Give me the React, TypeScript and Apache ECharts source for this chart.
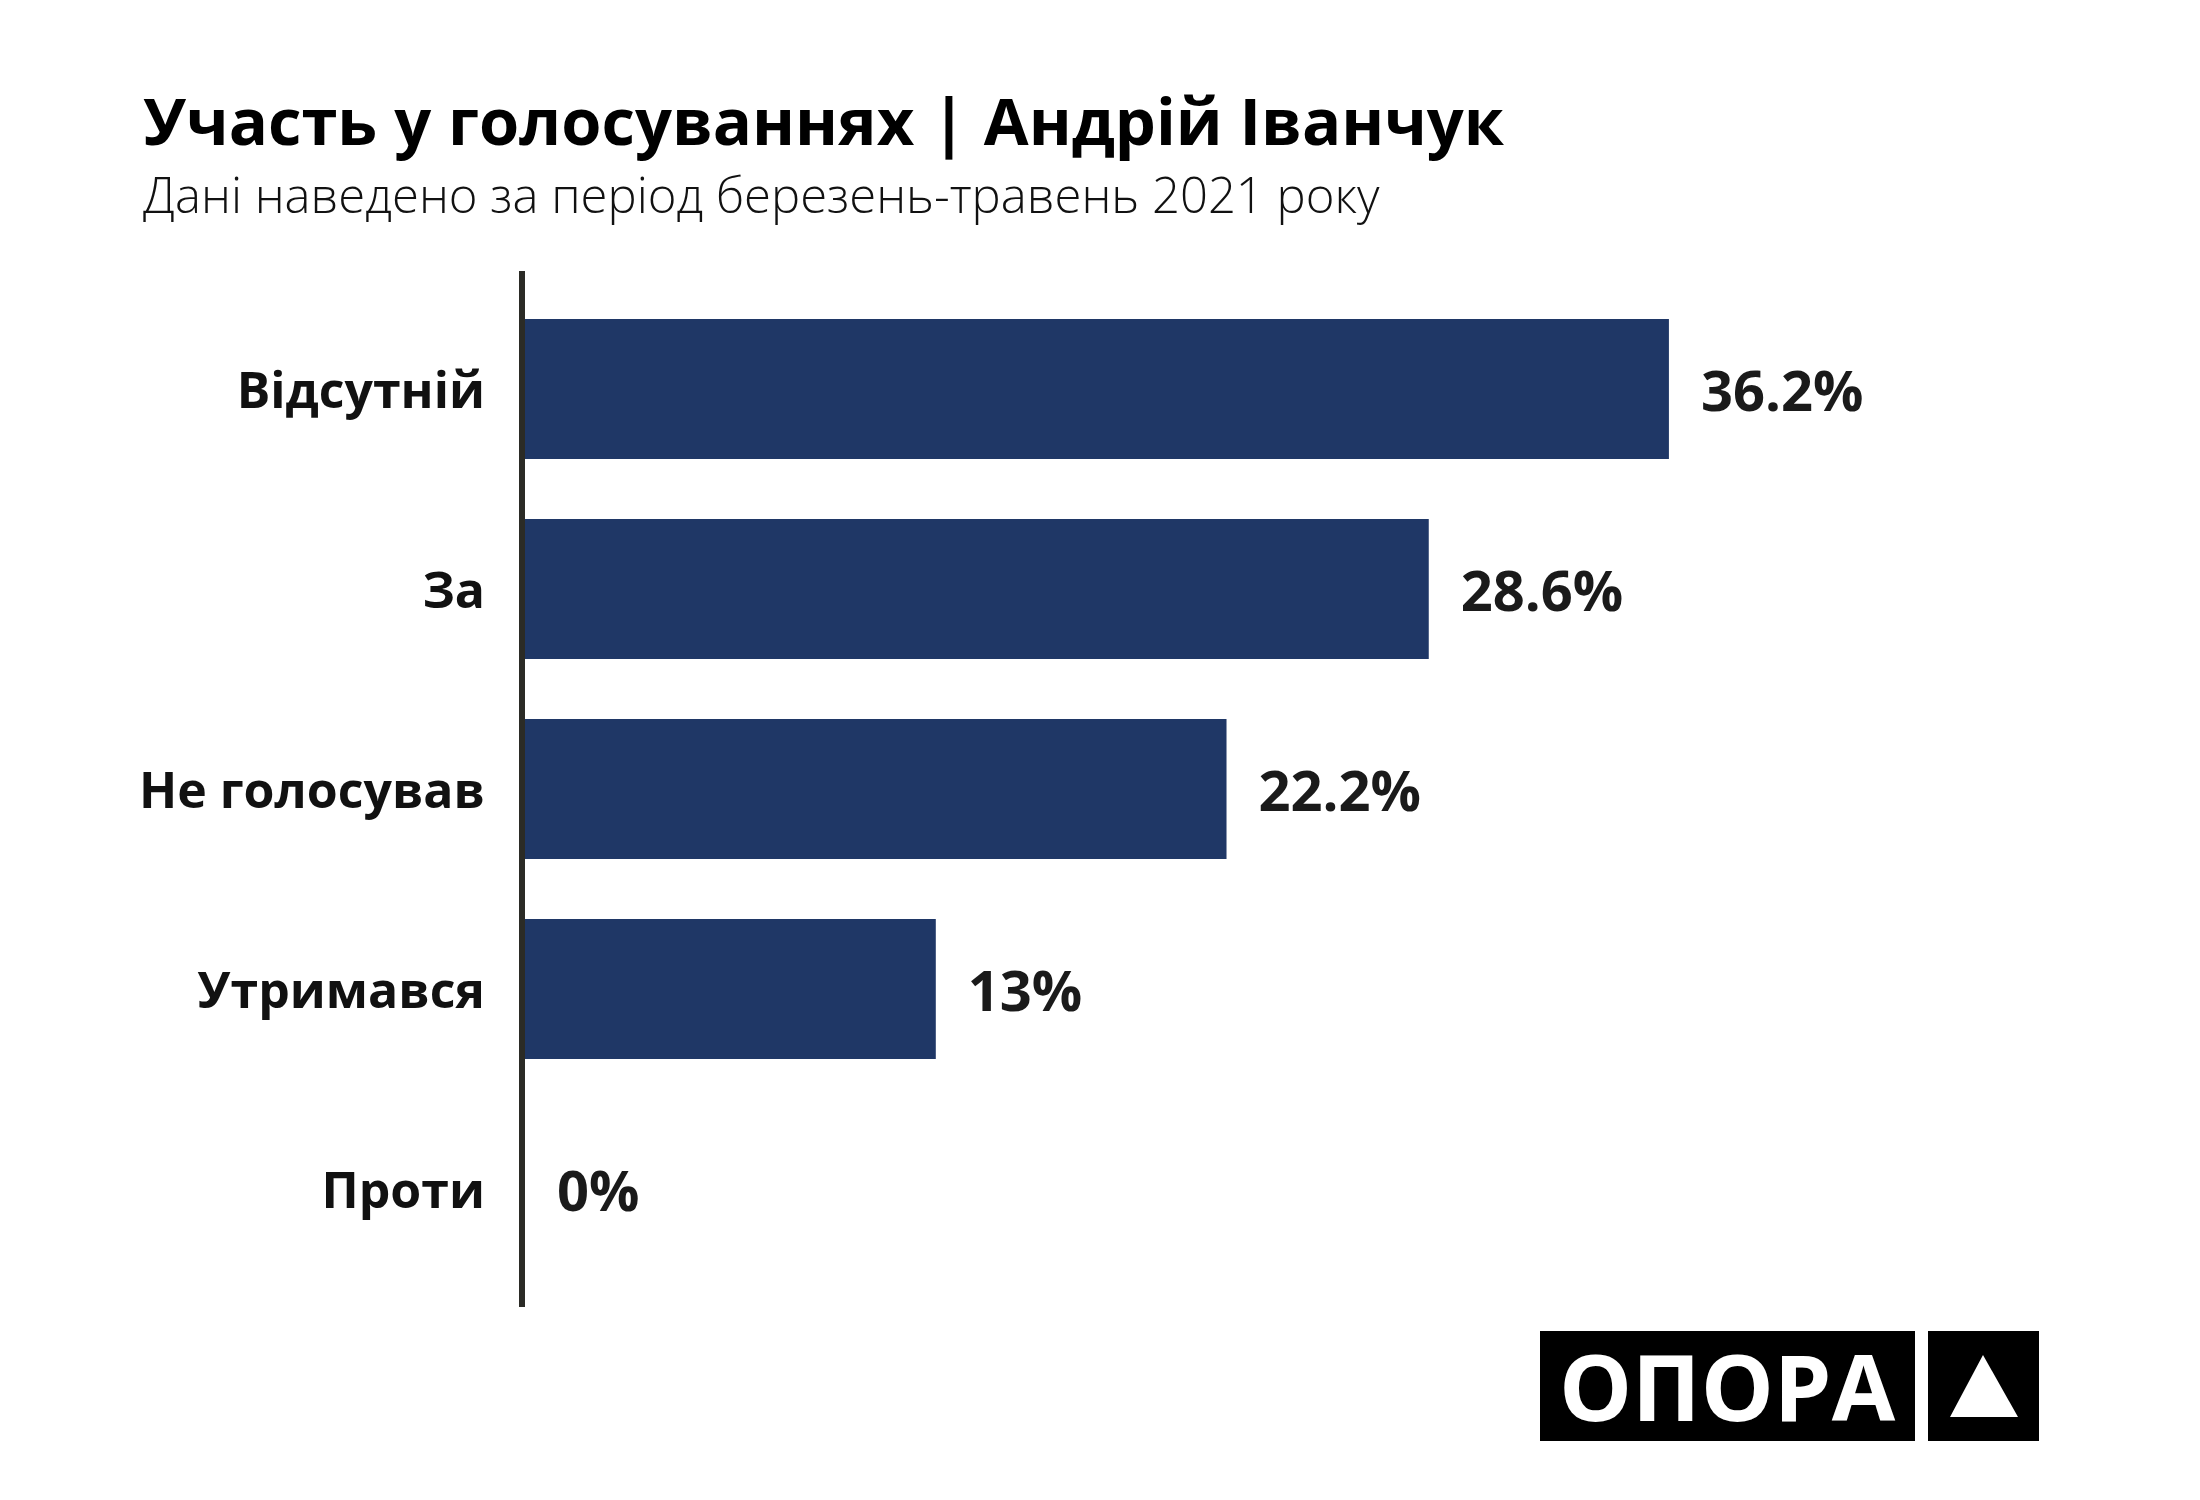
import React, { useEffect, useRef } from "react";
import * as echarts from "echarts";

const categories: string[] = ["Відсутній", "За", "Не голосував", "Утримався", "Проти"];
const values: number[] = [36.2, 28.6, 22.2, 13, 0];
const titleText = "Участь у голосуваннях | Андрій Іванчук";
const subtitleText = "Дані наведено за період березень-травень 2021 року";
const logoText = "ОПОРА";

const FONT = '"Open Sans", "Noto Sans", sans-serif';

export default function App() {
  const ref = useRef<HTMLDivElement>(null);
  useEffect(() => {
    if (!ref.current) return;
    const chart = echarts.init(ref.current, undefined, { renderer: "svg" });
    chart.setOption({
      animation: false,
      backgroundColor: "#ffffff",
      grid: { left: 525, top: 289, width: 1580, height: 1000, containLabel: false },
      xAxis: {
        type: "value",
        min: 0,
        max: 50,
        show: false,
      },
      yAxis: {
        type: "category",
        data: categories,
        inverse: true,
        axisLine: { show: false },
        axisTick: { show: false },
        splitLine: { show: false },
        axisLabel: {
          margin: 40,
          fontFamily: FONT,
          fontWeight: "bold",
          fontSize: 50,
          color: "#111111",
        },
      },
      series: [
        {
          type: "bar",
          data: values,
          barWidth: 140,
          itemStyle: { color: "#1f3766" },
          label: {
            show: true,
            position: "right",
            distance: 32,
            formatter: "{c}%",
            fontFamily: FONT,
            fontWeight: "bold",
            fontSize: 56,
            color: "#1a1a1a",
          },
        },
      ],
      graphic: [
        {
          type: "text",
          x: 143,
          y: 120,
          style: {
            text: titleText,
            font: `bold 65px ${FONT}`,
            fill: "#000000",
            textAlign: "left",
            textVerticalAlign: "middle",
          },
        },
        {
          type: "text",
          x: 143,
          y: 194,
          style: {
            text: subtitleText,
            font: `300 49px ${FONT}`,
            fill: "#111111",
            textAlign: "left",
            textVerticalAlign: "middle",
          },
        },
        {
          type: "line",
          shape: { x1: 522, y1: 271, x2: 522, y2: 1307 },
          style: { stroke: "#2b2b26", lineWidth: 6 },
        },
        {
          type: "rect",
          shape: { x: 1540, y: 1331, width: 375, height: 110 },
          style: { fill: "#000000" },
        },
        {
          type: "rect",
          shape: { x: 1928, y: 1331, width: 111, height: 110 },
          style: { fill: "#000000" },
        },
        {
          type: "text",
          x: 1727,
          y: 1385,
          style: {
            text: logoText,
            font: `bold 92px ${FONT}`,
            fill: "#ffffff",
            textAlign: "center",
            textVerticalAlign: "middle",
          },
        },
        {
          type: "polygon",
          shape: { points: [[1983, 1355], [1950, 1417], [2018, 1417]] },
          style: { fill: "#ffffff" },
        },
      ],
    });
    return () => chart.dispose();
  }, []);
  return (
    <div
      ref={ref}
      style={{ position: "absolute", left: 0, top: 0, width: 2200, height: 1500, background: "#fff" }}
    />
  );
}
